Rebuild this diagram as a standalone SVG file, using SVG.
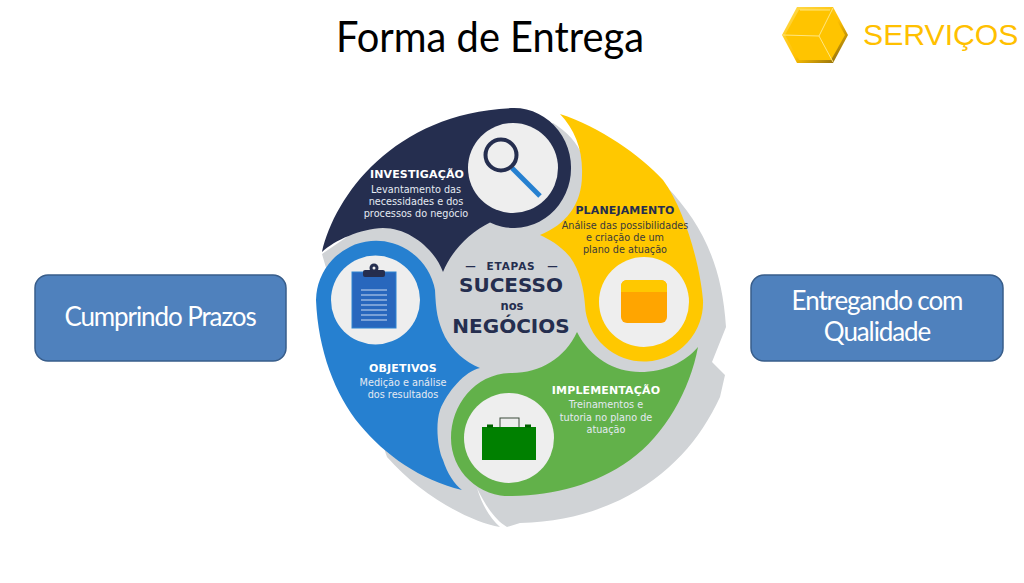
<svg xmlns="http://www.w3.org/2000/svg" width="1024" height="583" viewBox="0 0 1024 583">
<style>
.box{fill:#4F81BD;stroke:#385D8A;stroke-width:1.5}
.bt{font-family:"Lato","Liberation Sans",sans-serif;font-size:26px;fill:#fff;text-anchor:middle;letter-spacing:-1.1px}
.h{font-family:"DejaVu Sans",sans-serif;font-weight:bold;font-size:11px;text-anchor:middle;letter-spacing:.15px}
.d{font-family:"DejaVu Sans",sans-serif;font-size:9.7px;text-anchor:middle}
.c{font-family:"DejaVu Sans",sans-serif;font-weight:bold;fill:#252E4F;text-anchor:middle}
.w{fill:#fff}.lt{fill:#E4EAF2}.nv{fill:#252E4F}
.disc{fill:#EEEEEE}
</style>
<defs><linearGradient id="bev" x1="0" y1="0" x2="1" y2="1"><stop offset="0" stop-color="#FFDD55"/><stop offset=".55" stop-color="#FFC000"/><stop offset="1" stop-color="#7A5E10"/></linearGradient></defs>
<rect width="1024" height="583" fill="#fff"/>
<text x="490" y="52" font-family="Lato,'Liberation Sans',sans-serif" font-size="43" text-anchor="middle" fill="#000" textLength="308" lengthAdjust="spacingAndGlyphs">Forma de Entrega</text>
<g id="logo">
<polygon points="797,7 833,7 848,35 833,63 797,63 782,35" fill="url(#bev)"/>
<polygon points="799,10 831,10 845,35 831,60 799,60 785,35" fill="#FFC400"/>
<path d="M800,10H830M819,36L833,8M819,36L783,35M819,36L833,62" stroke="#FFE680" stroke-width="1" fill="none"/>
<text x="863" y="45" font-family="Liberation Sans,sans-serif" font-size="30.2" fill="#FFC000">SERVIÇOS</text>
</g>
<g id="box-prazos"><rect class="box" x="35" y="275" width="251" height="86" rx="13"/><text class="bt" x="160" y="326">Cumprindo Prazos</text></g>
<g id="box-qualidade"><rect class="box" x="751" y="275" width="252" height="86" rx="13"/><text class="bt" x="877" y="310">Entregando com</text><text class="bt" x="877" y="341">Qualidade</text></g>
<g id="shadow"><path fill="#D0D3D6" d="M322,254L430,180L553,123Q574,136 582,155L640,165L667,187C700,222 722,262 726,327L712,362L725,375L720,397C700,440 670,475 620,500C590,514 560,522 520,523L507,527C495,520 485,505 477,488C482,505 490,518 500,527C470,522 420,495 387,457L350,350Z"/></g>
<g id="investigacao">
<path fill="#252E4F" d="M322,252C335,195 395,112 514,108A57,60 0 1 1 490,222.400C470,232 452,250 443,272C435,250 410,228 383,228C360,229 335,240 322,252Z"/>
<circle class="disc" cx="513" cy="168" r="45"/>
<line x1="512" y1="168" x2="540" y2="196" stroke="#2680D0" stroke-width="5"/>
<circle cx="501" cy="155" r="15.500" fill="none" stroke="#252E4F" stroke-width="4"/>
<text class="h w" x="417" y="178">INVESTIGAÇÃO</text>
<text class="d lt" x="416" y="193">Levantamento das</text>
<text class="d lt" x="416" y="205">necessidades e dos</text>
<text class="d lt" x="416" y="217">processos do negócio</text>
</g>
<g id="planejamento">
<path fill="#FFC800" d="M560,114C600,127 640,155 663,180C685,210 700,265 703,300A59,59 0 0 1 585,305C584,290 580,270 570,257C560,245 550,240 540,235C565,225 582,205 582,175C583,150 575,130 560,114Z"/>
<circle class="disc" cx="644" cy="302" r="45"/>
<rect x="621" y="280" width="46" height="43" rx="6" fill="#FFA500"/>
<path d="M621,292V286a6,6 0 0 1 6,-6H661a6,6 0 0 1 6,6V292Z" fill="#FFC800"/>
<text class="h nv" x="625" y="214">PLANEJAMENTO</text>
<text class="d" fill="#3A3A3A" x="625" y="229">Análise das possibilidades</text>
<text class="d" fill="#3A3A3A" x="625" y="241">e criação de um</text>
<text class="d" fill="#3A3A3A" x="625" y="253">plano de atuação</text>
</g>
<g id="objetivos">
<path fill="#2680D0" d="M316,300A60,60 0 0 1 435,290C436,310 437,320 445,337C452,350 465,362 480,368C465,371 447,392 440,410C435,425 438,450 443,460C447,473 455,485 462,490C420,480 385,455 360,425C335,395 318,350 316,300Z"/>
<circle class="disc" cx="375.500" cy="300" r="44.500"/>
<rect x="352" y="272" width="44" height="56" fill="#2867BD" stroke="#2D84D2" stroke-width="1"/>
<rect x="363" y="270" width="22" height="7" rx="2" fill="#252E4F"/><circle cx="374" cy="268" r="4.500" fill="#252E4F"/><circle cx="374" cy="268" r="1.500" fill="#EEE"/>
<path d="M361,290H387M361,295H387M361,300H387M361,305H387M361,310H387M361,315H387M361,320H387" stroke="#C9DCF2" stroke-width="1"/>
<text class="h w" x="403" y="372">OBJETIVOS</text>
<text class="d lt" x="403" y="386">Medição e análise</text>
<text class="d lt" x="403" y="398">dos resultados</text>
</g>
<g id="implementacao">
<path fill="#62B14A" d="M698,347C690,390 665,435 630,460C595,485 555,495 512,496A58,58 0 0 1 451,438C451,405 475,373 512,373C540,373 565,358 577,332C590,358 615,372 640,372C665,372 685,362 698,347Z"/>
<circle class="disc" cx="509" cy="438" r="45"/>
<rect x="500" y="418" width="19" height="10" fill="none" stroke="#3A4A3A" stroke-width="1"/>
<rect x="482" y="427" width="54" height="33" fill="#008000"/>
<rect x="487" y="424.500" width="6" height="3" fill="#006000"/><rect x="525" y="424.500" width="6" height="3" fill="#006000"/>
<text class="h w" x="606" y="394">IMPLEMENTAÇÃO</text>
<text class="d lt" x="606" y="408">Treinamentos e</text>
<text class="d lt" x="606" y="421">tutoria no plano de</text>
<text class="d lt" x="606" y="433">atuação</text>
</g>
<g id="centro">
<text class="c" y="270" font-size="10.500"><tspan x="470.500">—</tspan><tspan x="511" letter-spacing=".8">ETAPAS</tspan><tspan x="552.500">—</tspan></text>
<text class="c" x="511" y="292" font-size="20">SUCESSO</text>
<text class="c" x="512" y="310" font-size="11.500">nos</text>
<text class="c" x="511" y="333" font-size="20">NEGÓCIOS</text>
</g>
</svg>
